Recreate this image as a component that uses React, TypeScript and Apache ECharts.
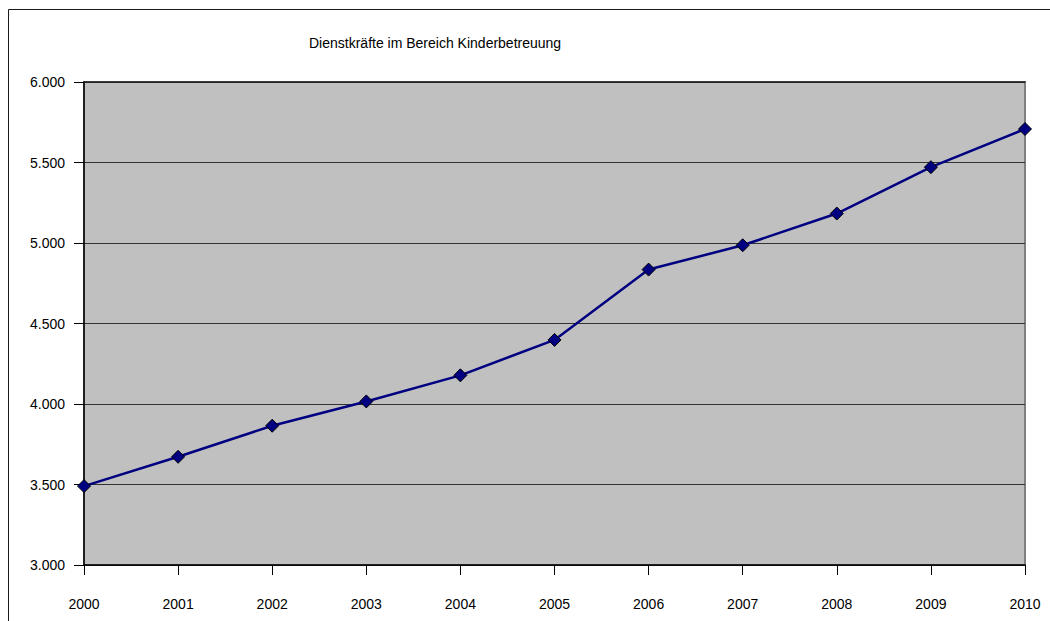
import React, { useEffect, useRef } from "react";
import * as echarts from "echarts";

const titleText = "Dienstkräfte im Bereich Kinderbetreuung";
const years = ["2000", "2001", "2002", "2003", "2004", "2005", "2006", "2007", "2008", "2009", "2010"];
const staff = [3490, 3672, 3865, 4016, 4178, 4398, 4835, 4986, 5183, 5471, 5708];
const yMin = 3000;
const yMax = 6000;
const yStep = 500;

const fmt = (v: number) => {
  const s = Math.round(v).toString();
  return s.replace(/\B(?=(\d{3})+(?!\d))/g, ".");
};

export default function App() {
  const ref = useRef<HTMLDivElement>(null);
  useEffect(() => {
    if (!ref.current) return;
    const chart = echarts.init(ref.current, undefined, { renderer: "svg" });
    const font = "'Liberation Sans', Arial, sans-serif";
    chart.setOption({
      animation: false,
      backgroundColor: "#ffffff",
      textStyle: { fontFamily: font },
      graphic: [
        {
          type: "rect",
          shape: { x: 8.5, y: 9.5, width: 1100, height: 700 },
          style: { fill: "none", stroke: "#1a1a1a", lineWidth: 1 },
          silent: true,
          z: -10,
        },
        {
          type: "text",
          left: 309,
          top: 36,
          style: { text: titleText, font: `14px ${font}`, fill: "#000" },
        },
      ],
      grid: {
        left: 84,
        right: 25,
        top: 82,
        bottom: 56,
        show: true,
        backgroundColor: "#c0c0c0",
        borderColor: "#808080",
        borderWidth: 2,
      },
      xAxis: [
        {
          type: "category",
          data: years,
          boundaryGap: false,
          axisLine: { show: true, lineStyle: { color: "#000", width: 1.5 } },
          axisTick: { show: true, length: 10, alignWithLabel: true, lineStyle: { color: "#000" } },
          axisLabel: { color: "#000", fontSize: 14, fontFamily: font, margin: 32 },
          splitLine: { show: false },
        },
        {
          type: "category",
          data: years,
          boundaryGap: false,
          position: "top",
          axisLine: { show: true, lineStyle: { color: "#222", width: 1.5 } },
          axisTick: { show: false },
          axisLabel: { show: false },
          splitLine: { show: false },
        },
      ],
      yAxis: {
        type: "value",
        min: yMin,
        max: yMax,
        interval: yStep,
        axisLine: { show: true, lineStyle: { color: "#000", width: 1.5 } },
        axisTick: { show: true, length: 10, lineStyle: { color: "#000" } },
        axisLabel: { color: "#000", fontSize: 14, fontFamily: font, margin: 19, formatter: (v: number) => fmt(v) },
        splitLine: { show: true, lineStyle: { color: "#333", width: 1 } },
      },
      series: [
        {
          type: "line",
          data: staff,
          xAxisIndex: 0,
          symbol: "diamond",
          symbolSize: 13,
          itemStyle: { color: "#000080", borderColor: "#000", borderWidth: 1 },
          lineStyle: { color: "#000080", width: 2.5 },
          z: 5,
        },
      ],
    });
    return () => chart.dispose();
  }, []);
  return <div ref={ref} style={{ position: "fixed", left: 0, top: 0, width: 1050, height: 621 }} />;
}
